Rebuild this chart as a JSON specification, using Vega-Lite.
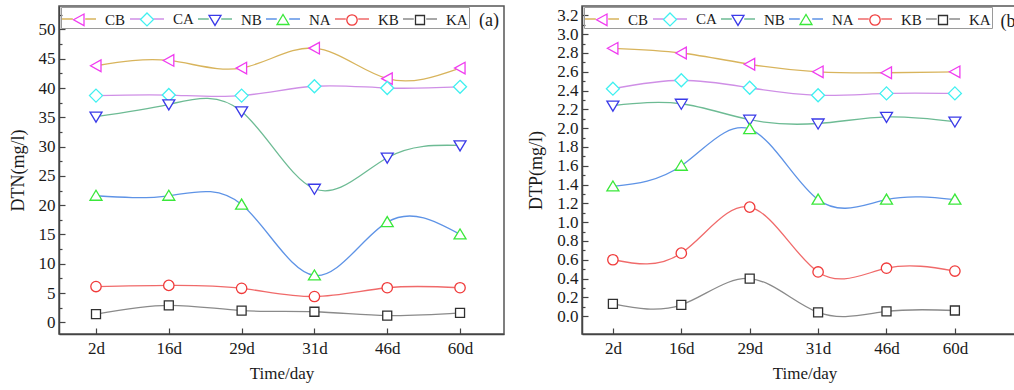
{
  "$schema": "https://vega.github.io/schema/vega-lite/v6.json",
  "padding": {"left": 8, "top": 5, "right": 0, "bottom": 2},
  "datasets": {
    "dtn": [
      {"time": "2d", "series": "CB", "value": 43.8}, {"time": "16d", "series": "CB", "value": 44.7}, {"time": "29d", "series": "CB", "value": 43.4}, {"time": "31d", "series": "CB", "value": 46.8}, {"time": "46d", "series": "CB", "value": 41.6}, {"time": "60d", "series": "CB", "value": 43.4},
      {"time": "2d", "series": "CA", "value": 38.7}, {"time": "16d", "series": "CA", "value": 38.8}, {"time": "29d", "series": "CA", "value": 38.7}, {"time": "31d", "series": "CA", "value": 40.3}, {"time": "46d", "series": "CA", "value": 40.0}, {"time": "60d", "series": "CA", "value": 40.2},
      {"time": "2d", "series": "NB", "value": 35.1}, {"time": "16d", "series": "NB", "value": 37.2}, {"time": "29d", "series": "NB", "value": 36.0}, {"time": "31d", "series": "NB", "value": 22.8}, {"time": "46d", "series": "NB", "value": 28.1}, {"time": "60d", "series": "NB", "value": 30.2},
      {"time": "2d", "series": "NA", "value": 21.6}, {"time": "16d", "series": "NA", "value": 21.6}, {"time": "29d", "series": "NA", "value": 20.1}, {"time": "31d", "series": "NA", "value": 8.0}, {"time": "46d", "series": "NA", "value": 17.1}, {"time": "60d", "series": "NA", "value": 15.0},
      {"time": "2d", "series": "KB", "value": 6.1}, {"time": "16d", "series": "KB", "value": 6.3}, {"time": "29d", "series": "KB", "value": 5.8}, {"time": "31d", "series": "KB", "value": 4.4}, {"time": "46d", "series": "KB", "value": 5.9}, {"time": "60d", "series": "KB", "value": 5.9},
      {"time": "2d", "series": "KA", "value": 1.4}, {"time": "16d", "series": "KA", "value": 2.9}, {"time": "29d", "series": "KA", "value": 2.0}, {"time": "31d", "series": "KA", "value": 1.8}, {"time": "46d", "series": "KA", "value": 1.15}, {"time": "60d", "series": "KA", "value": 1.6}
    ],
    "dtp": [
      {"time": "2d", "series": "CB", "value": 2.85}, {"time": "16d", "series": "CB", "value": 2.80}, {"time": "29d", "series": "CB", "value": 2.68}, {"time": "31d", "series": "CB", "value": 2.60}, {"time": "46d", "series": "CB", "value": 2.59}, {"time": "60d", "series": "CB", "value": 2.60},
      {"time": "2d", "series": "CA", "value": 2.42}, {"time": "16d", "series": "CA", "value": 2.51}, {"time": "29d", "series": "CA", "value": 2.43}, {"time": "31d", "series": "CA", "value": 2.35}, {"time": "46d", "series": "CA", "value": 2.37}, {"time": "60d", "series": "CA", "value": 2.37},
      {"time": "2d", "series": "NB", "value": 2.24}, {"time": "16d", "series": "NB", "value": 2.26}, {"time": "29d", "series": "NB", "value": 2.09}, {"time": "31d", "series": "NB", "value": 2.05}, {"time": "46d", "series": "NB", "value": 2.12}, {"time": "60d", "series": "NB", "value": 2.07},
      {"time": "2d", "series": "NA", "value": 1.38}, {"time": "16d", "series": "NA", "value": 1.60}, {"time": "29d", "series": "NA", "value": 1.99}, {"time": "31d", "series": "NA", "value": 1.24}, {"time": "46d", "series": "NA", "value": 1.24}, {"time": "60d", "series": "NA", "value": 1.24},
      {"time": "2d", "series": "KB", "value": 0.60}, {"time": "16d", "series": "KB", "value": 0.67}, {"time": "29d", "series": "KB", "value": 1.16}, {"time": "31d", "series": "KB", "value": 0.47}, {"time": "46d", "series": "KB", "value": 0.51}, {"time": "60d", "series": "KB", "value": 0.48},
      {"time": "2d", "series": "KA", "value": 0.13}, {"time": "16d", "series": "KA", "value": 0.12}, {"time": "29d", "series": "KA", "value": 0.40}, {"time": "31d", "series": "KA", "value": 0.04}, {"time": "46d", "series": "KA", "value": 0.05}, {"time": "60d", "series": "KA", "value": 0.06}
    ]
  },
  "spacing": 22,
  "hconcat": [
    {
      "width": 445,
      "height": 328,
      "data": {"name": "dtn"},
      "layer": [
        {
          "mark": {"type": "line", "interpolate": "natural", "strokeWidth": 1.3},
          "encoding": {
            "x": {"field": "time", "type": "ordinal", "sort": ["2d", "16d", "29d", "31d", "46d", "60d"], "scale": {"type": "point", "padding": 0.556, "align": 0.457}, "axis": {"title": "Time/day", "labelAngle": 0, "tickSize": -6, "labelPadding": 12, "titlePadding": 9}},
            "y": {"field": "value", "type": "quantitative", "scale": {"domain": [-2, 54], "nice": false, "zero": false}, "axis": {"title": "DTN(mg/l)", "titleFontSize": 18, "values": [0, 5, 10, 15, 20, 25, 30, 35, 40, 45, 50], "tickSize": -6, "labelPadding": 10, "titlePadding": 11}},
            "stroke": {"field": "series", "type": "nominal", "sort": ["CB", "CA", "NB", "NA", "KB", "KA"], "scale": {"range": ["#d8b45c", "#cf8fe6", "#6dbb94", "#5e93e6", "#f06a6a", "#8a8a8a"]}, "legend": {"title": null, "symbolType": "M-1.7,0L-0.62,0M0.62,0L1.7,0", "labelOpacity": 0, "strokeColor": "#9a9a9a"}}
          }
        },
        {
          "mark": {"type": "point", "filled": false, "fill": "white", "size": 400, "strokeWidth": 1.3, "opacity": 1},
          "encoding": {
            "x": {"field": "time", "type": "ordinal", "sort": ["2d", "16d", "29d", "31d", "46d", "60d"]},
            "y": {"field": "value", "type": "quantitative", "axis": null},
            "color": {"field": "series", "type": "nominal", "scale": {"domain": ["CB", "CA", "NB", "NA", "KB", "KA"], "range": ["#f03cf0", "#40f0f0", "#3a3ae8", "#3ae83a", "#f03a3a", "#303030"]}, "legend": {"title": null}},
            "shape": {"field": "series", "type": "nominal", "scale": {"domain": ["CB", "CA", "NB", "NA", "KB", "KA"], "range": ["M-1.7,0M1.7,0M-0.55,0L0.5,-0.58L0.5,0.58Z", "M-1.7,0M1.7,0M0,-0.65L0.65,0L0,0.65L-0.65,0Z", "M-1.7,0M1.7,0M-0.6,-0.45L0.6,-0.45L0,0.55Z", "M-1.7,0M1.7,0M-0.6,0.45L0.6,0.45L0,-0.55Z", "M-1.7,0M1.7,0M0.52,0A0.52,0.52,0,1,1,-0.52,0A0.52,0.52,0,1,1,0.52,0Z", "M-1.7,0M1.7,0M-0.45,-0.45L0.45,-0.45L0.45,0.45L-0.45,0.45Z"]}, "legend": {"title": null}}
          }
        },
        {
          "mark": {"type": "point", "opacity": 0},
          "encoding": {
            "y": {"field": "value", "type": "quantitative", "axis": {"orient": "left", "values": [2.5, 7.5, 12.5, 17.5, 22.5, 27.5, 32.5, 37.5, 42.5, 47.5, 52.5], "labels": false, "domain": false, "tickSize": -3, "title": null}}
          }
        },
        {
          "data": {"values": [{"time": "60d", "value": 51.4, "label": "(a)"}]},
          "mark": {"type": "text", "dx": 29, "align": "center", "baseline": "middle", "fontSize": 18, "color": "#1a1a1a"},
          "encoding": {
            "x": {"field": "time", "type": "ordinal", "sort": ["2d", "16d", "29d", "31d", "46d", "60d"]},
            "y": {"field": "value", "type": "quantitative", "axis": null},
            "text": {"field": "label"}
          }
        }
      ],
      "resolve": {"axis": {"y": "independent"}}
    },
    {
      "width": 445,
      "height": 328,
      "data": {"name": "dtp"},
      "layer": [
        {
          "mark": {"type": "line", "interpolate": "natural", "strokeWidth": 1.3},
          "encoding": {
            "x": {"field": "time", "type": "ordinal", "sort": ["2d", "16d", "29d", "31d", "46d", "60d"], "scale": {"type": "point", "padding": 0.753, "align": 0.3}, "axis": {"title": "Time/day", "labelAngle": 0, "tickSize": -6, "labelPadding": 12, "titlePadding": 9}},
            "y": {"field": "value", "type": "quantitative", "scale": {"domain": [-0.19, 3.3], "nice": false, "zero": false}, "axis": {"title": "DTP(mg/l)", "titleFontSize": 18, "values": [0, 0.2, 0.4, 0.6, 0.8, 1.0, 1.2, 1.4, 1.6, 1.8, 2.0, 2.2, 2.4, 2.6, 2.8, 3.0, 3.2], "format": ".1f", "tickSize": -6, "labelPadding": 10, "titlePadding": 11}},
            "stroke": {"field": "series", "type": "nominal", "sort": ["CB", "CA", "NB", "NA", "KB", "KA"], "scale": {"range": ["#d8b45c", "#cf8fe6", "#6dbb94", "#5e93e6", "#f06a6a", "#8a8a8a"]}, "legend": {"title": null, "symbolType": "M-1.7,0L-0.62,0M0.62,0L1.7,0", "labelOpacity": 0, "strokeColor": "#9a9a9a"}}
          }
        },
        {
          "mark": {"type": "point", "filled": false, "fill": "white", "size": 400, "strokeWidth": 1.3, "opacity": 1},
          "encoding": {
            "x": {"field": "time", "type": "ordinal", "sort": ["2d", "16d", "29d", "31d", "46d", "60d"]},
            "y": {"field": "value", "type": "quantitative", "axis": null},
            "color": {"field": "series", "type": "nominal", "scale": {"domain": ["CB", "CA", "NB", "NA", "KB", "KA"], "range": ["#f03cf0", "#40f0f0", "#3a3ae8", "#3ae83a", "#f03a3a", "#303030"]}, "legend": {"title": null}},
            "shape": {"field": "series", "type": "nominal", "scale": {"domain": ["CB", "CA", "NB", "NA", "KB", "KA"], "range": ["M-1.7,0M1.7,0M-0.55,0L0.5,-0.58L0.5,0.58Z", "M-1.7,0M1.7,0M0,-0.65L0.65,0L0,0.65L-0.65,0Z", "M-1.7,0M1.7,0M-0.6,-0.45L0.6,-0.45L0,0.55Z", "M-1.7,0M1.7,0M-0.6,0.45L0.6,0.45L0,-0.55Z", "M-1.7,0M1.7,0M0.52,0A0.52,0.52,0,1,1,-0.52,0A0.52,0.52,0,1,1,0.52,0Z", "M-1.7,0M1.7,0M-0.45,-0.45L0.45,-0.45L0.45,0.45L-0.45,0.45Z"]}, "legend": {"title": null}}
          }
        },
        {
          "mark": {"type": "point", "opacity": 0},
          "encoding": {
            "y": {"field": "value", "type": "quantitative", "axis": {"orient": "left", "values": [0.1, 0.3, 0.5, 0.7, 0.9, 1.1, 1.3, 1.5, 1.7, 1.9, 2.1, 2.3, 2.5, 2.7, 2.9, 3.1], "labels": false, "domain": false, "tickSize": -3, "title": null}}
          }
        },
        {
          "data": {"values": [{"time": "60d", "value": 3.126, "label": "(b)"}]},
          "mark": {"type": "text", "dx": 56, "align": "center", "baseline": "middle", "fontSize": 18, "color": "#1a1a1a"},
          "encoding": {
            "x": {"field": "time", "type": "ordinal", "sort": ["2d", "16d", "29d", "31d", "46d", "60d"]},
            "y": {"field": "value", "type": "quantitative", "axis": null},
            "text": {"field": "label"}
          }
        }
      ],
      "resolve": {"axis": {"y": "independent"}}
    }
  ],
  "resolve": {"scale": {"color": "independent", "stroke": "independent", "shape": "independent"}},
  "config": {
    "font": "Times New Roman, Liberation Serif, DejaVu Serif, serif",
    "text": {"font": "Times New Roman, Liberation Serif, DejaVu Serif, serif"},
    "view": {"stroke": "#555555", "strokeWidth": 1.5},
    "axis": {"grid": false, "domainColor": "#444444", "domainWidth": 1.5, "tickColor": "#444444", "tickWidth": 1.2, "labelFont": "Times New Roman, Liberation Serif, DejaVu Serif, serif", "labelFontSize": 17, "labelColor": "#1a1a1a", "titleFont": "Times New Roman, Liberation Serif, DejaVu Serif, serif", "titleFontSize": 17, "titleFontWeight": "normal", "titleColor": "#1a1a1a"},
    "legend": {"orient": "none", "legendX": 2, "legendY": 1, "direction": "horizontal", "symbolSize": 400, "symbolStrokeWidth": 1.3, "symbolOffset": 6, "labelOffset": 15, "columnPadding": 1, "padding": 1, "labelFont": "Times New Roman, Liberation Serif, DejaVu Serif, serif", "labelFontSize": 15, "labelColor": "#1a1a1a"}
  }
}
